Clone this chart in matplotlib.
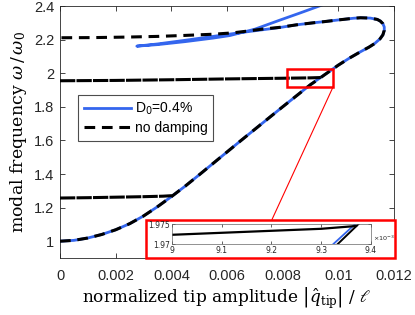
import matplotlib
matplotlib.use('Agg')
import matplotlib.pyplot as plt
from matplotlib.patches import Rectangle, ConnectionPatch
from matplotlib.ticker import FuncFormatter

# no damping: main backbone (lower branch, fold, upper branch back to x=0)
nd_x = [0, 0.0005, 0.001, 0.0015, 0.002, 0.0025, 0.003, 0.0035, 0.004,
        0.0045, 0.005, 0.0055, 0.006, 0.0065, 0.007, 0.0075, 0.008, 0.0085,
        0.009, 0.0093, 0.0095, 0.010, 0.0104, 0.0108, 0.0111, 0.0113, 0.0115,
        0.0116, 0.01165, 0.01165, 0.0116, 0.01151, 0.0114, 0.01115, 0.0108,
        0.01054, 0.010, 0.0095, 0.0091, 0.0085, 0.0079, 0.0073, 0.0067,
        0.0062, 0.0055, 0.0045, 0.0035, 0.0024, 0.0012, 0]
nd_y = [1.0, 1.005, 1.019, 1.04, 1.068, 1.104, 1.15, 1.205, 1.265,
        1.328, 1.395, 1.463, 1.531, 1.599, 1.666, 1.733, 1.8, 1.866,
        1.932, 1.966, 1.99, 2.048, 2.09, 2.128, 2.155, 2.176, 2.205,
        2.228, 2.255, 2.275, 2.295, 2.31, 2.32, 2.328, 2.33,
        2.327, 2.317, 2.307, 2.3, 2.288, 2.273, 2.263, 2.25,
        2.24, 2.232, 2.225, 2.219, 2.215, 2.212, 2.211]

# no damping: isolated near-horizontal branches
low_x = [0, 0.001, 0.002, 0.003, 0.0037, 0.00402]
low_y = [1.257, 1.259, 1.262, 1.265, 1.268, 1.271]
mid_x = [0, 0.002, 0.004, 0.006, 0.008, 0.009, 0.0093, 0.00937]
mid_y = [1.955, 1.957, 1.961, 1.966, 1.970, 1.9723, 1.9738, 1.9745]

# damped response D0 = 0.4 %
d_x = [0, 0.0005, 0.001, 0.0015, 0.002, 0.0025, 0.003, 0.0035, 0.004,
       0.0045, 0.005, 0.0055, 0.006, 0.0065, 0.007, 0.0075, 0.008, 0.0085,
       0.009, 0.0093, 0.0095, 0.010, 0.0104, 0.0108, 0.0111, 0.0113, 0.0115,
       0.0116, 0.01165, 0.01165, 0.0116, 0.01151, 0.0114, 0.01115, 0.0108,
       0.01054, 0.010, 0.0095, 0.0091, 0.0085, 0.0079, 0.0073, 0.0065,
       0.0055, 0.0045, 0.0035, 0.00276, 0.0035, 0.0045, 0.0055, 0.0061,
       0.007, 0.0079, 0.0086, 0.0094]
d_y = [1.0, 1.005, 1.019, 1.04, 1.068, 1.104, 1.15, 1.205, 1.265,
       1.328, 1.395, 1.463, 1.531, 1.599, 1.666, 1.733, 1.8, 1.866,
       1.932, 1.9672, 1.99, 2.048, 2.09, 2.128, 2.155, 2.176, 2.205,
       2.228, 2.255, 2.275, 2.295, 2.31, 2.32, 2.328, 2.33,
       2.327, 2.317, 2.307, 2.3, 2.288, 2.272, 2.259, 2.242,
       2.219, 2.196, 2.174, 2.161, 2.17, 2.188, 2.209, 2.224,
       2.262, 2.316, 2.357, 2.405]

blue = '#3466ee'
grey = '0.15'

fig = plt.figure(figsize=(4.15, 3.15), dpi=100)
ax = fig.add_axes([60 / 415, 57 / 315, 334 / 415, 252 / 315])

ax.plot(d_x, d_y, color=blue, lw=2.0, label='D$_0$=0.4%', zorder=2)
ax.plot(nd_x, nd_y, color='black', lw=2.2, dashes=(3.5, 2.2),
        label='no damping', zorder=3)
ax.plot(low_x, low_y, color='black', lw=2.2, dashes=(5, 0.4), zorder=3)
ax.plot(mid_x, mid_y, color='black', lw=2.2, dashes=(5, 0.4), zorder=3)

ax.set_xlim(0, 0.012)
ax.set_ylim(0.9, 2.4)
ax.set_xticks([0, 0.002, 0.004, 0.006, 0.008, 0.01, 0.012])
ax.set_xticklabels(['0', '0.002', '0.004', '0.006', '0.008', '0.01', '0.012'])
ax.set_yticks([1, 1.2, 1.4, 1.6, 1.8, 2, 2.2, 2.4])
ax.set_yticklabels(['1', '1.2', '1.4', '1.6', '1.8', '2', '2.2', '2.4'])
ax.tick_params(direction='in', top=True, right=True, length=3.5,
               width=0.6, color=grey, labelcolor=grey, labelsize=10.5)
ax.tick_params(axis='x', pad=8)
ax.tick_params(axis='y', pad=4)
for lab in ax.get_xticklabels() + ax.get_yticklabels():
    lab.set_family('Liberation Sans')
for sp in ax.spines.values():
    sp.set_color(grey)
    sp.set_linewidth(0.6)

ax.set_xlabel(r'normalized tip amplitude $\left|\hat{q}_{\mathrm{tip}}\right|$ / $\ell$',
              fontsize=12.2, family='DejaVu Serif', math_fontfamily='dejavuserif',
              labelpad=2)
ax.set_ylabel(r'modal frequency $\omega\,/\,\omega_0$',
              fontsize=12.5, family='DejaVu Serif', math_fontfamily='dejavuserif',
              labelpad=4)

leg = ax.legend(loc='upper left', bbox_to_anchor=(0.054, 0.647),
                prop={'family': 'Liberation Sans', 'size': 10,
                      'math_fontfamily': 'dejavusans'},
                handlelength=3.4, handletextpad=0.3, borderpad=0.4,
                labelspacing=0.3, borderaxespad=0, fancybox=False,
                framealpha=1)
leg.get_frame().set_edgecolor('0.3')
leg.get_frame().set_linewidth(0.8)

# zoom box and connector
ax.add_patch(Rectangle((0.00815, 1.918), 0.00166, 0.107, fill=False,
                       ec='red', lw=1.8, zorder=5))
con = ConnectionPatch(xyA=(0.00981, 1.918), coordsA=ax.transData,
                      xyB=(272 / 415, (315 - 219.5) / 315),
                      coordsB=fig.transFigure, color='red', lw=0.8)
fig.add_artist(con)

box = Rectangle((146 / 415, (315 - 258.3) / 315), 248.5 / 415, 38.8 / 315,
                transform=fig.transFigure, facecolor='white', edgecolor='red',
                lw=1.8, zorder=5)
fig.add_artist(box)

ins = fig.add_axes([171.7 / 415, 71 / 315, 199.3 / 415, 20 / 315])
ins.set_zorder(10)
ins.plot(d_x, d_y, color=blue, lw=1.3)
ins.plot(nd_x, nd_y, color='black', lw=1.4)
ins.plot(mid_x, mid_y, color='black', lw=1.6)
ins.set_xlim(0.009, 0.0094)
ins.set_ylim(1.97, 1.975)
ins.set_xticks([0.009, 0.0091, 0.0092, 0.0093, 0.0094])
ins.xaxis.set_major_formatter(FuncFormatter(lambda v, _: f'{v * 1e3:g}'))
ins.set_yticks([1.97, 1.975])
ins.set_yticklabels(['1.97', '1.975'])
ins.tick_params(direction='in', top=True, right=True, length=2, width=0.5,
                color=grey, labelcolor=grey, labelsize=5.5, pad=1.5)
for sp in ins.spines.values():
    sp.set_color('0.4')
    sp.set_linewidth(0.5)
fig.text(372.5 / 415, (315 - 238) / 315, r'$\times10^{-3}$', fontsize=4.6,
         color=grey, math_fontfamily='dejavusans', va='center', zorder=11)

fig.savefig('out.png', dpi=100)
